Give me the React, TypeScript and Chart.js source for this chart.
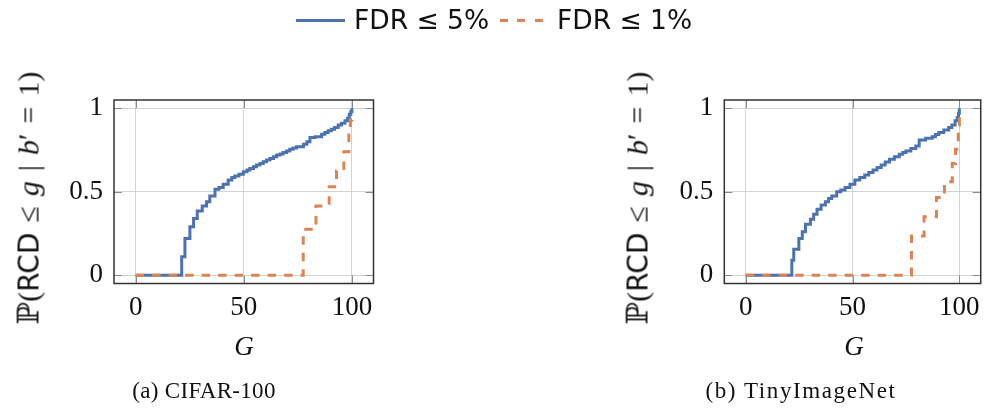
import React, { useEffect, useRef } from "react";
import { Chart, registerables } from "chart.js";

Chart.register(...registerables);

// ---------- data ----------
const xTickValues = [0, 50, 100];
const xTickLabels = ["0", "50", "100"];
const yTickValues = [0, 0.5, 1];
const yTickLabels = ["0", "0.5", "1"];

const legendLabels = ["FDR ≤ 5%", "FDR ≤ 1%"];
const captions = ["(a) CIFAR-100", "(b) TinyImageNet"];

// (a) CIFAR-100, FDR <= 5%
const cifarG5 = [0, 21.3, 22.8, 25.1, 26.8, 28.5, 30.8, 32.8, 34.3, 36.7, 38.5, 40.5, 42.8, 44.5, 45.9, 47.8, 49.8, 51.5, 52.8, 54.5, 55.9, 57.5, 59, 60.5, 62.1, 63.8, 65.2, 66.8, 68.2, 69.8, 71.3, 72.8, 74.4, 77.6, 79.2, 80.6, 83, 86, 87.5, 89, 90.5, 92, 93.7, 95.2, 96.8, 98, 98.8, 99.5, 100];
const cifarP5 = [0, 0.11, 0.22, 0.29, 0.34, 0.385, 0.415, 0.44, 0.475, 0.515, 0.525, 0.545, 0.57, 0.585, 0.595, 0.605, 0.62, 0.63, 0.64, 0.65, 0.66, 0.67, 0.68, 0.69, 0.7, 0.71, 0.72, 0.727, 0.735, 0.745, 0.755, 0.762, 0.77, 0.785, 0.8, 0.825, 0.83, 0.845, 0.855, 0.865, 0.875, 0.885, 0.9, 0.91, 0.925, 0.94, 0.965, 0.98, 1.0];
// (a) CIFAR-100, FDR <= 1%
const cifarG1 = [0, 77.5, 83.4, 89.5, 92.9, 96.3, 98.6, 99.3, 100];
const cifarP1 = [0, 0.275, 0.415, 0.53, 0.625, 0.74, 0.87, 0.93, 0.97];

// (b) TinyImageNet, FDR <= 5%
const tinyG5 = [0, 21.6, 22.5, 24.9, 26.5, 28, 30.3, 31.8, 33.4, 35.3, 37.3, 38.8, 40.3, 42.6, 44.5, 46.5, 48.8, 51.1, 53.4, 55.7, 57.6, 59.6, 61.5, 63.4, 65.3, 67.3, 69.6, 71.9, 73.5, 75, 77.3, 79.6, 81.2, 84.2, 87.3, 88.8, 90.4, 92.7, 95, 96.5, 98, 99, 99.6, 100];
const tinyP5 = [0, 0.09, 0.155, 0.22, 0.26, 0.305, 0.335, 0.365, 0.395, 0.42, 0.44, 0.46, 0.475, 0.5, 0.51, 0.525, 0.545, 0.57, 0.585, 0.6, 0.615, 0.63, 0.645, 0.66, 0.678, 0.695, 0.71, 0.725, 0.735, 0.745, 0.76, 0.775, 0.81, 0.82, 0.83, 0.843, 0.855, 0.87, 0.885, 0.9, 0.925, 0.945, 0.97, 1.0];
// (b) TinyImageNet, FDR <= 1%
const tinyG1 = [0, 77.6, 83.5, 89.3, 93, 96.7, 98.2, 99.5, 100];
const tinyP1 = [0, 0.235, 0.35, 0.465, 0.56, 0.67, 0.755, 0.9, 0.97];

// ---------- styles ----------
const BLUE = "rgb(76,114,176)";
const ORANGE = "rgb(221,132,82)";
const SERIF = "'Liberation Serif', 'DejaVu Serif', serif";
const SANS = "'DejaVu Sans', 'Noto Sans', sans-serif";

const framePlugin = {
  id: "pgfFrame",
  beforeDatasetsDraw(chart: any) {
    const { ctx, chartArea: a, scales } = chart;
    ctx.save();
    const L = 8;
    ctx.strokeStyle = "#8a8a8a";
    ctx.lineWidth = 1;
    ctx.beginPath();
    for (const v of xTickValues) {
      const px = Math.round(scales.x.getPixelForValue(v)) + 0.5;
      ctx.moveTo(px, a.bottom);
      ctx.lineTo(px, a.bottom - L);
      ctx.moveTo(px, a.top);
      ctx.lineTo(px, a.top + L);
    }
    for (const v of yTickValues) {
      const py = Math.round(scales.y.getPixelForValue(v)) + 0.5;
      ctx.moveTo(a.left, py);
      ctx.lineTo(a.left + L, py);
      ctx.moveTo(a.right, py);
      ctx.lineTo(a.right - L, py);
    }
    ctx.stroke();
    ctx.strokeStyle = "#333";
    ctx.lineWidth = 1.5;
    ctx.strokeRect(a.left, a.top, a.right - a.left, a.bottom - a.top);
    ctx.restore();
  },
};

type PanelProps = {
  left: number;
  width: number;
  yAxisWidth: number;
  rightPad: number;
  g5: number[];
  p5: number[];
  g1: number[];
  p1: number[];
};

function Panel({ left, width, yAxisWidth, rightPad, g5, p5, g1, p1 }: PanelProps) {
  const ref = useRef<HTMLCanvasElement | null>(null);
  useEffect(() => {
    if (!ref.current) return;
    const tickFont = { family: SERIF, size: 27 };
    const chart = new Chart(ref.current, {
      type: "line",
      data: {
        datasets: [
          {
            label: legendLabels[1],
            data: g1.map((x, i) => ({ x, y: p1[i] })),
            borderColor: ORANGE,
            borderWidth: 3,
            borderDash: [8.5, 8],
            stepped: "before",
            pointRadius: 0,
            fill: false,
          },
          {
            label: legendLabels[0],
            data: g5.map((x, i) => ({ x, y: p5[i] })),
            borderColor: BLUE,
            borderWidth: 3,
            stepped: "before",
            pointRadius: 0,
            fill: false,
          },
        ],
      },
      options: {
        animation: false,
        responsive: false,
        maintainAspectRatio: false,
        layout: { padding: { left: 0, right: rightPad, top: 100, bottom: 0 } },
        plugins: { legend: { display: false }, tooltip: { enabled: false } },
        scales: {
          x: {
            type: "linear",
            min: -10,
            max: 110,
            grid: { color: "#d2d2d2", lineWidth: 1, drawTicks: false },
            border: { display: false },
            ticks: {
              font: tickFont,
              color: "#111",
              padding: 8,
              maxRotation: 0,
              callback: (v: any) => xTickLabels[xTickValues.indexOf(Number(v))] ?? "",
            },
            afterBuildTicks: (s: any) => {
              s.ticks = xTickValues.map((v) => ({ value: v }));
            },
            afterFit: (s: any) => {
              s.height = 129.5;
            },
          },
          y: {
            type: "linear",
            min: -0.05,
            max: 1.05,
            grid: { color: "#d2d2d2", lineWidth: 1, drawTicks: false },
            border: { display: false },
            ticks: {
              font: tickFont,
              color: "#111",
              padding: 11,
              callback: (v: any) => yTickLabels[yTickValues.indexOf(Number(v))] ?? "",
            },
            afterBuildTicks: (s: any) => {
              s.ticks = yTickValues.map((v) => ({ value: v }));
            },
            afterFit: (s: any) => {
              s.width = yAxisWidth;
            },
          },
        },
      },
      plugins: [framePlugin],
    } as any);
    return () => chart.destroy();
  }, []);
  return (
    <canvas
      ref={ref}
      width={width}
      height={413}
      style={{ position: "absolute", left, top: 0, width, height: 413 }}
    />
  );
}

function YTitle({ cx, cy }: { cx: number; cy: number }) {
  return (
    <div
      style={{
        position: "absolute",
        left: cx,
        top: cy,
        transform: "translate(-50%, -50%) rotate(-90deg)",
        whiteSpace: "nowrap",
        fontFamily: SERIF,
        fontSize: 30,
        lineHeight: "34px",
        color: "#111",
      }}
    >
      ℙ(<span style={{ fontFamily: SANS, fontSize: 28 }}>RCD</span>{"\u2004≤\u2004"}<i>g</i>{"\u2004|\u2004"}<i>b</i>′{"\u2004=\u2004"}1)
    </div>
  );
}

function XTitle({ cx }: { cx: number }) {
  return (
    <div
      style={{
        position: "absolute",
        left: cx,
        top: 333,
        transform: "translateX(-50%)",
        fontFamily: SERIF,
        fontStyle: "italic",
        fontSize: 27,
        lineHeight: "27px",
        color: "#111",
      }}
    >
      G
    </div>
  );
}

function Caption({ cx, text, spacing }: { cx: number; text: string; spacing: number }) {
  return (
    <div
      style={{
        position: "absolute",
        left: cx,
        top: 379,
        transform: "translateX(-50%)",
        whiteSpace: "nowrap",
        fontFamily: SERIF,
        fontSize: 23,
        lineHeight: "23px",
        letterSpacing: spacing,
        color: "#111",
      }}
    >
      {text}
    </div>
  );
}

export default function App() {
  return (
    <div
      style={{
        position: "fixed",
        left: 0,
        top: 0,
        width: 988,
        height: 413,
        background: "#fff",
        overflow: "hidden",
      }}
    >
      <Panel left={0} width={400} yAxisWidth={114} rightPad={26.5} g5={cifarG5} p5={cifarP5} g1={cifarG1} p1={cifarP1} />
      <Panel left={600} width={388} yAxisWidth={124.3} rightPad={4.7} g5={tinyG5} p5={tinyP5} g1={tinyG1} p1={tinyP1} />

      {/* legend */}
      <div style={{ position: "absolute", left: 296, top: 19, width: 49, height: 3, background: BLUE }} />
      <div
        style={{
          position: "absolute",
          left: 354,
          top: 7,
          fontFamily: SANS,
          fontSize: 26.5,
          lineHeight: "26px",
          whiteSpace: "nowrap",
          color: "#111",
        }}
      >
        {legendLabels[0]}
      </div>
      <div
        style={{
          position: "absolute",
          left: 500,
          top: 19,
          width: 44,
          height: 3,
          background: `repeating-linear-gradient(to right, ${ORANGE} 0px, ${ORANGE} 8px, transparent 8px, transparent 17.5px)`,
        }}
      />
      <div
        style={{
          position: "absolute",
          left: 557,
          top: 7,
          fontFamily: SANS,
          fontSize: 26.5,
          lineHeight: "26px",
          whiteSpace: "nowrap",
          color: "#111",
        }}
      >
        {legendLabels[1]}
      </div>

      <YTitle cx={29} cy={198} />
      <YTitle cx={638} cy={198} />
      <XTitle cx={244} />
      <XTitle cx={854} />
      <Caption cx={204} text={captions[0]} spacing={0.3} />
      <Caption cx={801} text={captions[1]} spacing={1.6} />
    </div>
  );
}
